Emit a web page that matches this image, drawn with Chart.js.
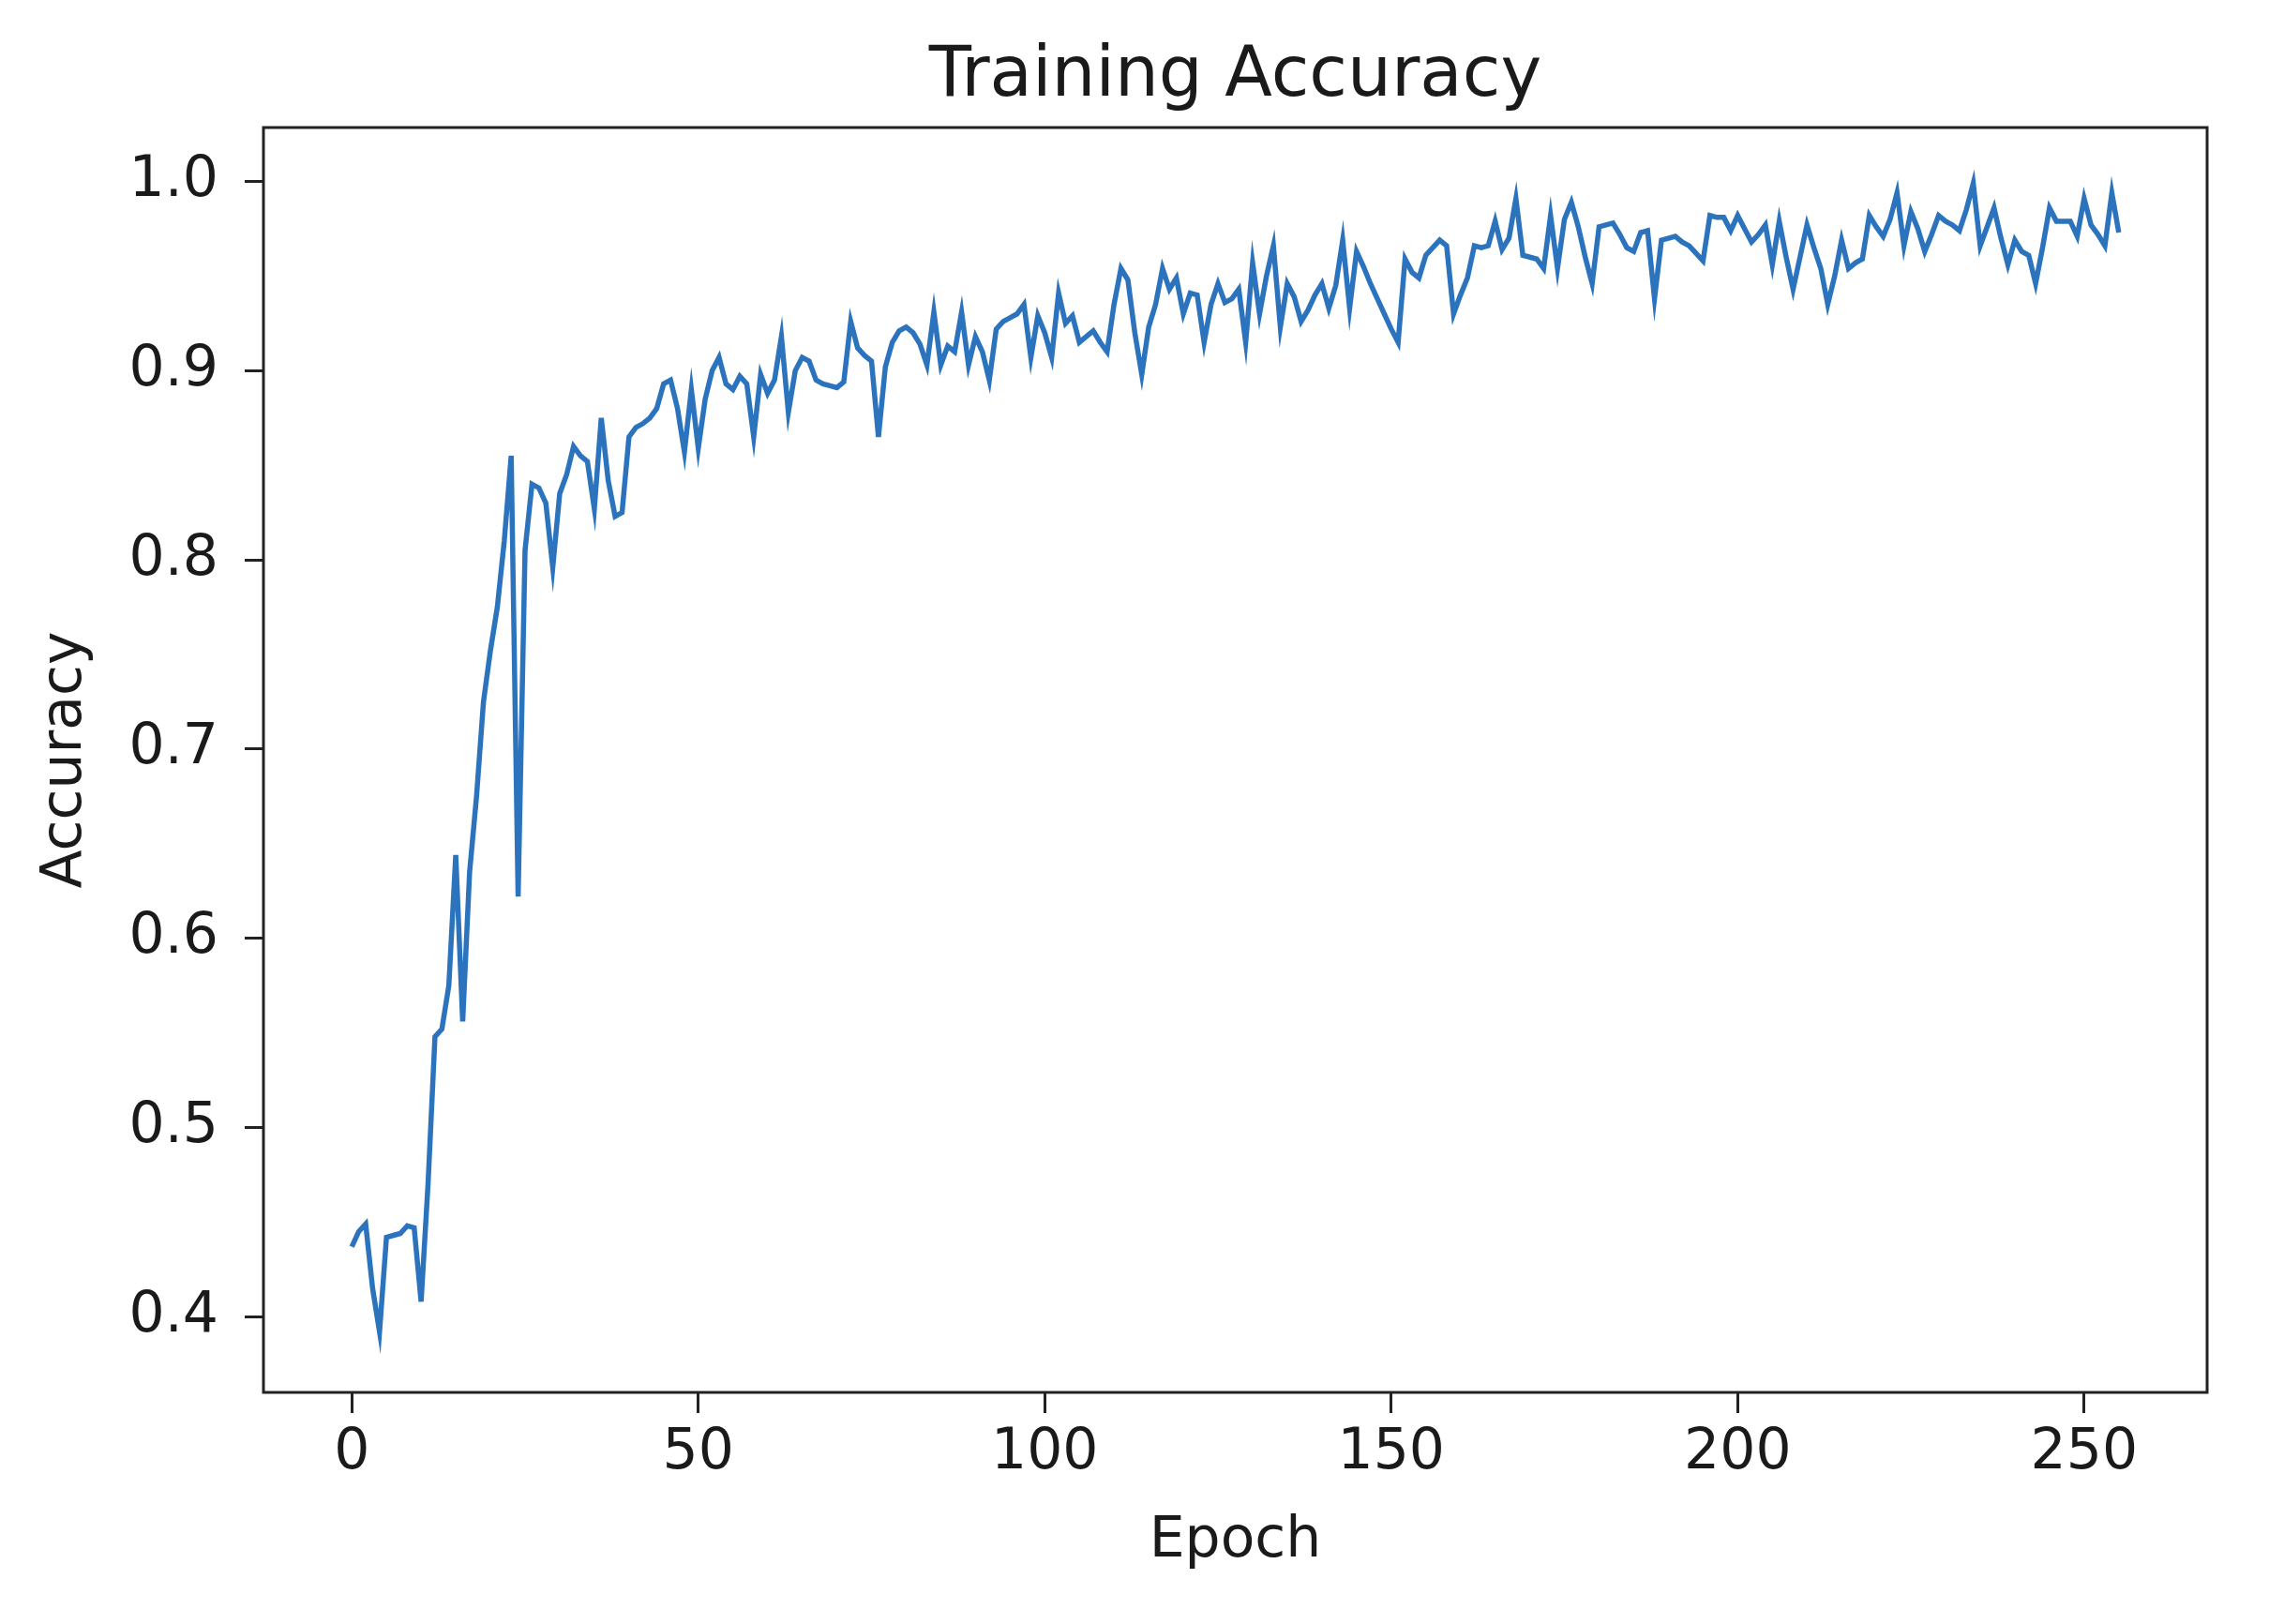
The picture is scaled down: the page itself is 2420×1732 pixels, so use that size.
<!DOCTYPE html>
<html>
<head>
<meta charset="utf-8">
<script src="https://cdn.jsdelivr.net/npm/chart.js@4.4.0/dist/chart.umd.min.js"></script>
<style>
  html, body { margin: 0; padding: 0; background: #fff; }
  canvas { display: block; }
</style>
</head>
<body>
<canvas id="myChart" width="2420" height="1732" style="width:2420px;height:1732px"></canvas>
<script>
//. One value per epoch
const accuracy = [
  0.437, 0.445, 0.449, 0.415, 0.392, 0.442, 0.443, 0.444, 0.448, 0.447,
  0.408, 0.470, 0.548, 0.552, 0.575, 0.644, 0.556, 0.635, 0.675, 0.725,
  0.752, 0.775, 0.810, 0.855, 0.622, 0.805, 0.840, 0.838, 0.830, 0.796,
  0.835, 0.845, 0.860, 0.855, 0.852, 0.827, 0.875, 0.842, 0.823, 0.825,
  0.865, 0.870, 0.872, 0.875, 0.880, 0.893, 0.895, 0.880, 0.857, 0.890,
  0.859, 0.885, 0.900, 0.907, 0.893, 0.890, 0.897, 0.893, 0.865, 0.898,
  0.888, 0.895, 0.918, 0.878, 0.900, 0.907, 0.905, 0.895, 0.893, 0.892,
  0.891, 0.894, 0.926, 0.912, 0.908, 0.905, 0.865, 0.902, 0.915, 0.921,
  0.923, 0.920, 0.914, 0.903, 0.931, 0.903, 0.913, 0.910, 0.931, 0.903,
  0.918, 0.910, 0.895, 0.922, 0.926, 0.928, 0.930, 0.935, 0.907, 0.929,
  0.920, 0.907, 0.941, 0.925, 0.929, 0.915, 0.918, 0.921, 0.915, 0.910,
  0.935, 0.954, 0.948, 0.920, 0.898, 0.923, 0.935, 0.954, 0.943, 0.949,
  0.930, 0.941, 0.940, 0.915, 0.935, 0.946, 0.936, 0.938, 0.943, 0.915,
  0.957, 0.930, 0.950, 0.966, 0.923, 0.946, 0.939, 0.926, 0.932, 0.940,
  0.946, 0.933, 0.945, 0.969, 0.933, 0.963, 0.955, 0.946, 0.938, 0.930,
  0.922, 0.915, 0.959, 0.952, 0.949, 0.961, 0.965, 0.969, 0.966, 0.930,
  0.940, 0.949, 0.966, 0.965, 0.966, 0.979, 0.964, 0.970, 0.991, 0.961,
  0.960, 0.959, 0.954, 0.982, 0.954, 0.980, 0.989, 0.976, 0.960, 0.946,
  0.976, 0.977, 0.978, 0.972, 0.965, 0.963, 0.973, 0.974, 0.938, 0.969,
  0.970, 0.971, 0.968, 0.966, 0.962, 0.958, 0.982, 0.981, 0.981, 0.974,
  0.982, 0.975, 0.968, 0.972, 0.977, 0.956, 0.979, 0.960, 0.943, 0.960,
  0.977, 0.965, 0.954, 0.935, 0.950, 0.969, 0.954, 0.957, 0.959, 0.982,
  0.976, 0.971, 0.980, 0.994, 0.966, 0.984, 0.975, 0.963, 0.972, 0.982,
  0.979, 0.977, 0.974, 0.985, 0.999, 0.966, 0.976, 0.986, 0.970, 0.956,
  0.969, 0.963, 0.961, 0.946, 0.965, 0.986, 0.979, 0.979, 0.979, 0.971,
  0.991, 0.977, 0.972, 0.966, 0.994, 0.973
];
const xTicks = [0, 50, 100, 150, 200, 250];
const yTicks = [0.4, 0.5, 0.6, 0.7, 0.8, 0.9, 1.0];
const chartTitle = "Training Accuracy";

const font = "'DejaVu Sans', sans-serif";
const ink = "#1a1a1a";

//. Box round the plot area and the title centred over it, like matplotlib
const frame = {
  id: "frame",
  afterDatasetsDraw(chart) {
    const a = chart.chartArea, c = chart.ctx;
    c.save();
    c.strokeStyle = "#222";
    c.lineWidth = 3;
    c.strokeRect(a.left, a.top, a.right - a.left, a.bottom - a.top);
    c.fillStyle = ink;
    c.font = "74px " + font;
    c.textAlign = "center";
    c.textBaseline = "alphabetic";
    c.fillText(chartTitle, (a.left + a.right) / 2, 102);
    c.restore();
  },
};

const ctx = document.getElementById("myChart");

let myChart = new Chart(ctx, {
  type: "line",
  data: {
    datasets: [
      {
        label: "Accuracy",
        data: accuracy.map((v, i) => ({ x: i, y: v })),
        borderColor: "#2b73bd",
        borderWidth: 5.5,
        pointRadius: 0,
        tension: 0,
        fill: false,
      },
    ],
  },
  options: {
    responsive: false,
    animation: false,
    devicePixelRatio: 1,
    layout: { padding: { left: 0, right: 66, top: 136, bottom: 0 } },
    plugins: {
      legend: { display: false },
      tooltip: { enabled: false },
      title: { display: false },
    },
    scales: {
      x: {
        type: "linear",
        min: -12.75,
        max: 267.75,
        afterBuildTicks: (scale) => {
          scale.ticks = xTicks.map((v) => ({ value: v }));
        },
        afterFit: (scale) => {
          scale.height = 247;
        },
        ticks: {
          color: ink,
          font: { family: font, size: 60 },
          padding: 7,
          maxRotation: 0,
          callback: (v) => String(v),
        },
        grid: {
          drawOnChartArea: false,
          drawTicks: true,
          tickLength: 22,
          tickWidth: 3,
          tickColor: "#222",
        },
        border: { display: false },
        title: {
          display: true,
          text: "Epoch",
          color: ink,
          font: { family: font, size: 60 },
          padding: { top: 0, bottom: 52 },
        },
      },
      y: {
        type: "linear",
        min: 0.36,
        max: 1.0285,
        afterBuildTicks: (scale) => {
          scale.ticks = yTicks.map((v) => ({ value: v }));
        },
        afterFit: (scale) => {
          scale.width = 281;
        },
        ticks: {
          color: ink,
          font: { family: font, size: 60 },
          padding: 28,
          callback: (v) => v.toFixed(1),
        },
        grid: {
          drawOnChartArea: false,
          drawTicks: true,
          tickLength: 20,
          tickWidth: 3,
          tickColor: "#222",
        },
        border: { display: false },
        title: {
          display: true,
          text: "Accuracy",
          color: ink,
          font: { family: font, size: 60 },
          padding: { top: 34, bottom: 0 },
        },
      },
    },
  },
  plugins: [frame],
});
</script>
</body>
</html>
